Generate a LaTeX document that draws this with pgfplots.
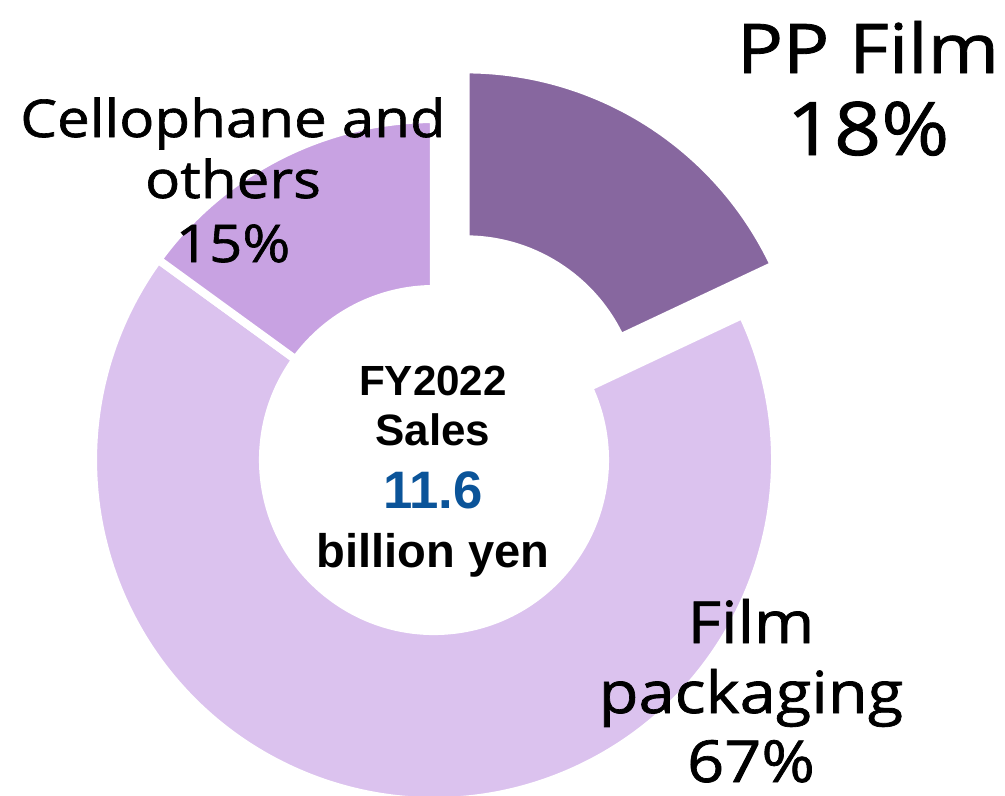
\documentclass[border=0pt]{standalone}
\usepackage{fontspec}
\setmainfont{Open Sans}[FakeBold=1.2, FakeStretch=1.12]
\newfontfamily\arialfont{Liberation Sans}
\usepackage{pgfplots}
\usepackage{pgfplotstable}
\pgfplotsset{compat=1.18}
\definecolor{slice0}{HTML}{87679F}
\definecolor{slice1}{HTML}{DBC2EE}
\definecolor{slice2}{HTML}{C8A2E2}
\definecolor{salesblue}{HTML}{0B5499}

% share in %, explode offset in px
\pgfplotstableread{
label share explode
PP 18 58.8
Pack 67 0
Cello 15 0
}\sharetable

\begin{document}
\begin{tikzpicture}
\begin{axis}[
    hide axis,
    scale only axis,
    width=10.05cm, height=7.95cm,
    xmin=0, xmax=1005, ymin=0, ymax=795,
]
\pgfmathsetmacro{\cx}{434}
\pgfmathsetmacro{\cy}{335}
\gdef\angcur{90}
\pgfplotsinvokeforeach{0,1,2}{%
  \pgfplotstablegetelem{#1}{share}\of\sharetable
  \pgfmathsetmacro{\aone}{\angcur}%
  \pgfmathsetmacro{\atwo}{\angcur-3.6*\pgfplotsretval}%
  \pgfmathsetmacro{\athr}{\atwo+180}%
  \pgfplotstablegetelem{#1}{explode}\of\sharetable
  \pgfmathsetmacro{\ox}{\cx+\pgfplotsretval*cos((\aone+\atwo)/2)}%
  \pgfmathsetmacro{\oy}{\cy+\pgfplotsretval*sin((\aone+\atwo)/2)}%
  \edef\doslice{\noexpand\fill[slice#1, draw=white, line width=2.3pt, line join=miter]
     (axis cs:\ox,\oy) ++(\aone:3.41cm) arc[start angle=\aone, end angle=\atwo, radius=3.41cm]
     -- ++(\athr:1.70cm) arc[start angle=\atwo, end angle=\aone, radius=1.71cm] -- cycle;}%
  \doslice
  \xdef\angcur{\atwo}%
}
% labels
\node[anchor=base, font=\fontsize{14.8}{17}\selectfont] at (axis cs:233,658) {Cellophane and};
\node[anchor=base, font=\fontsize{14.8}{17}\selectfont] at (axis cs:233,597) {others};
\node[anchor=base, font=\fontsize{14.8}{17}\selectfont] at (axis cs:233,533) {15\%};
\node[anchor=base, font=\fontsize{19.5}{23}\selectfont] at (axis cs:868,722) {PP Film};
\node[anchor=base, font=\fontsize{21}{25}\selectfont] at (axis cs:868,640) {18\%};
\node[anchor=base, font=\fontsize{16.5}{19}\selectfont] at (axis cs:751,152) {Film};
\node[anchor=base, font=\fontsize{16.5}{19}\selectfont] at (axis cs:751,82) {packaging};
\node[anchor=base, font=\fontsize{16.5}{19}\selectfont] at (axis cs:751,13) {67\%};
% centre
\node[anchor=base, font=\arialfont\bfseries\fontsize{12}{14}\selectfont] at (axis cs:433,400) {FY2022};
\node[anchor=base, font=\arialfont\bfseries\fontsize{12.5}{14}\selectfont] at (axis cs:433,350) {Sales};
\node[anchor=base, font=\arialfont\bfseries\fontsize{15}{18}\selectfont, text=salesblue] at (axis cs:433,287) {11.6};
\node[anchor=base, font=\arialfont\bfseries\fontsize{13.4}{15}\selectfont] at (axis cs:433,228) {billion yen};
\end{axis}
\pgfresetboundingbox
\path (current axis.south west) rectangle (current axis.north east);
\end{tikzpicture}
\end{document}
